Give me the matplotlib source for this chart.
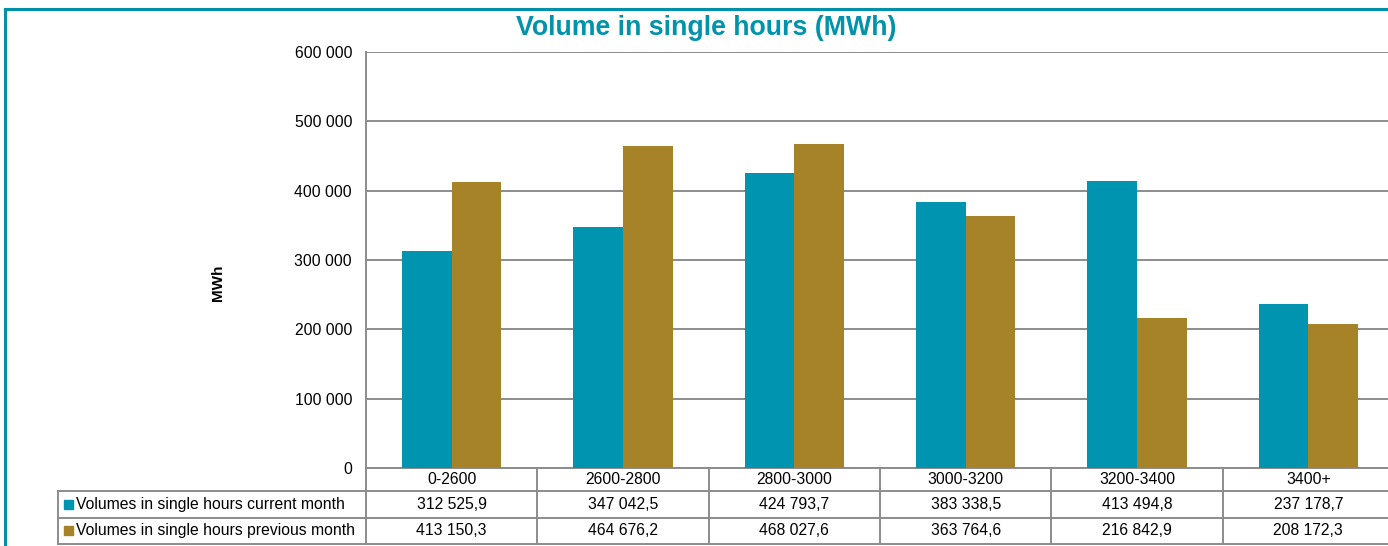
import matplotlib
matplotlib.use("Agg")
import matplotlib.pyplot as plt
import matplotlib.transforms as mtransforms
from matplotlib.lines import Line2D
from matplotlib.patches import Rectangle
import numpy as np

categories = ["0-2600", "2600-2800", "2800-3000", "3000-3200", "3200-3400", "3400+"]
current_month = [312525.9, 347042.5, 424793.7, 383338.5, 413494.8, 237178.7]
previous_month = [413150.3, 464676.2, 468027.6, 363764.6, 216842.9, 208172.3]
series_names = ["Volumes in single hours current month",
                "Volumes in single hours previous month"]
y_ticks = [0, 100000, 200000, 300000, 400000, 500000, 600000]

TEAL = "#0094b1"
GOLD = "#a68229"
GRID = "#8c8c8c"
BORDER = "#0090a8"
FS = 11.3

plt.rcParams["font.family"] = ["Liberation Sans", "DejaVu Sans"]


def fmt_space(v, decimals=0):
    s = f"{v:,.{decimals}f}"
    return s.replace(",", " ").replace(".", ",")


W, H = 1388, 546
fig = plt.figure(figsize=(W / 100, H / 100), dpi=100)
ax = fig.add_axes([366 / W, 1 - 468 / H, (1394 - 366) / W, (468 - 52) / H])

x = np.arange(len(categories))
bw = 0.29
ax.bar(x - bw / 2, current_month, width=bw, color=TEAL, zorder=3)
ax.bar(x + bw / 2, previous_month, width=bw, color=GOLD, zorder=3)

ax.set_xlim(-0.5, len(categories) - 0.5)
ax.set_ylim(0, 600000)
ax.set_yticks(y_ticks)
ax.set_yticklabels([fmt_space(t) for t in y_ticks], fontsize=FS)
ax.tick_params(axis="y", length=0, pad=10)
ax.set_xticks([])
ax.grid(axis="y", color=GRID, linewidth=1.4, zorder=0)
for side in ("top", "right", "bottom"):
    ax.spines[side].set_visible(False)
ax.spines["left"].set_color(GRID)
ax.spines["left"].set_linewidth(1.4)
ax.set_ylabel("MWh", fontsize=11, fontweight="bold", labelpad=0)
ax.yaxis.set_label_coords((225 - 366) / (1394 - 366), 1 - (283 - 52) / 416)

fig.text(706 / W, 1 - 28 / H, "Volume in single hours (MWh)", ha="center",
         va="center", fontsize=19.3, fontweight="bold", color="#0093ab")

# table under the plot
trans = mtransforms.blended_transform_factory(ax.transData, ax.transAxes)
ah = 468 - 52
rows = [0.0, -23 / ah, -49.5 / ah, -75.5 / ah]
x_left = -0.5
x_right = len(categories) - 0.5
legend_left = (57.7 - 366) / 171.3 - 0.5
lkw = dict(color=GRID, linewidth=1.4, transform=trans, clip_on=False)

for i, yy in enumerate(rows):
    x0 = x_left if i == 0 else legend_left
    ax.add_line(Line2D([x0, x_right + 0.1], [yy, yy], **lkw))
ax.add_line(Line2D([legend_left, legend_left], [rows[1], rows[3]], **lkw))
ax.add_line(Line2D([x_left, x_left], [0, rows[3]], **lkw))
for k in range(1, len(categories)):
    ax.add_line(Line2D([k - 0.5, k - 0.5], [0, rows[3]], **lkw))

row_mid = [(rows[i] + rows[i + 1]) / 2 for i in range(3)]
for i, cat in enumerate(categories):
    ax.text(i, row_mid[0], cat, ha="center", va="center", fontsize=FS,
            transform=trans, clip_on=False)
    ax.text(i, row_mid[1], fmt_space(current_month[i], 1), ha="center",
            va="center", fontsize=FS, transform=trans, clip_on=False)
    ax.text(i, row_mid[2], fmt_space(previous_month[i], 1), ha="center",
            va="center", fontsize=FS, transform=trans, clip_on=False)

for name, color, ym in zip(series_names, [TEAL, GOLD], row_mid[1:]):
    yfig = ax.transAxes.transform((0, ym))[1] / H
    fig.patches.append(Rectangle((64 / W, yfig - 4.5 / H), 9 / W, 9 / H,
                                 color=color, transform=fig.transFigure))
    fig.text(76 / W, yfig, name, ha="left", va="center", fontsize=FS)

# outer frame
fig.patches.append(Rectangle((5 / W, -0.1), 1.2, 1 - 9 / H + 0.1,
                             fill=False, edgecolor=BORDER, linewidth=2.2,
                             transform=fig.transFigure))

fig.savefig("out.png", dpi=100, facecolor="white")
